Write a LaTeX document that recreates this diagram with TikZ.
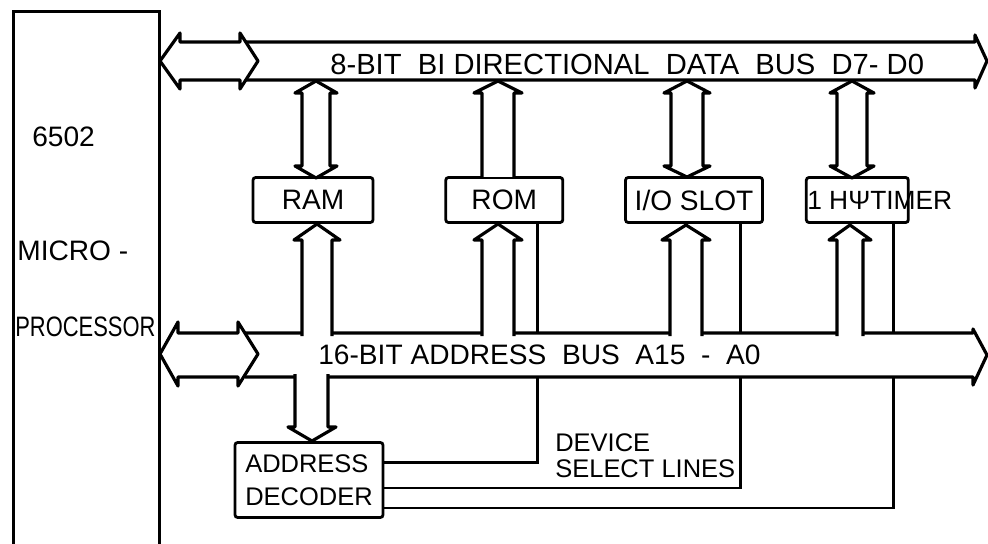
\documentclass[tikz,border=0pt]{standalone}
\usepackage{fontspec}
\usepackage{graphicx}
\setmainfont{Liberation Sans}
\usetikzlibrary{positioning}

\begin{document}
\begin{tikzpicture}[x=0.02cm,y=-0.02cm,
  node distance=14mm,
  box/.style={draw,line width=1.6pt,rounded corners=1.5pt,fill=white,minimum height=9mm,inner sep=0pt,font=\fontsize{16}{18}\selectfont},
  lbl/.style={inner sep=0pt,font=\fontsize{16}{18}\selectfont},
  fat/.style={draw,line width=1.8pt,fill=white,line join=round},
  wire/.style={draw,line width=1.6pt}]
\useasboundingbox (0,0) rectangle (988,544);
\clip (0,0) rectangle (988,544);
% processor
\node[box,sharp corners,anchor=north west,minimum width=29.2mm,minimum height=112mm] (cpu) at (12,10) {};
\node[lbl,anchor=base west] (cpua) at (32,147) {6502};
\node[lbl,anchor=base west] (cpub) at (17,260) {MICRO -};
\node[lbl,anchor=base west] (cpuc) at (15,337) {\scalebox{0.78}[1]{PROCESSOR}};
% devices
\node[box,minimum width=24mm] (ram) at (313,200) {RAM};
\node[box,minimum width=23.4mm,right=14mm of ram] (rom) {ROM};
\node[box,minimum width=27.4mm,right=12mm of rom] (io) {I/O SLOT};
\node[box,minimum width=20.4mm,right=8.2mm of io] (tmr) {};
\node[lbl,anchor=west,font=\fontsize{15}{16}\selectfont] (tmrtxt) at ([xshift=0.4mm]tmr.west) {1 HΨTIMER};
% decoder
\node[box,minimum width=29.6mm,minimum height=15mm,align=left,font=\fontsize{14.5}{18.8}\selectfont] (dec) at (309,480) {ADDRESS\\DECODER};
\node[lbl,anchor=north west,align=left,font=\fontsize{14.5}{14.8}\selectfont] (dsl) at (555,433) {DEVICE\\SELECT LINES};
% select lines, the bus hides them
\draw[wire] ([xshift=6.7mm]rom.south) |- ([yshift=3.5mm]dec.east);
\draw[wire] ([xshift=9.3mm]io.south) |- ([yshift=-1.6mm]dec.east);
\draw[wire] ([xshift=7.2mm]tmr.south) |- ([yshift=-5.6mm]dec.east);
% data bus
\draw[fat] (246,42) -- (975,42) -- (975,35) -- (987,61) -- (975,88) -- (975,80) -- (246,80);
\draw[fat] (160,61) -- (180,33) -- (180,42) -- (240,42) -- (240,33) -- (258,61) -- (240,89) -- (240,80) -- (180,80) -- (180,89) -- cycle;
% address bus
\draw[fat] (245,333) -- (973,333) -- (973,329) -- (987,355) -- (973,385) -- (973,377) -- (245,377);
\draw[fat] (160,354) -- (178,322) -- (178,333) -- (238,333) -- (238,322) -- (258,354) -- (238,386) -- (238,377) -- (178,377) -- (178,386) -- cycle;
% data side
\draw[fat] (316,81) -- (337,93) -- (330,93) -- (330,166) -- (337,166) -- (316,178) -- (295,166) -- (302,166) -- (302,93) -- (295,93) -- cycle;
\draw[fat] (482,177) -- (482,93) -- (474,93) -- (498,81) -- (522,93) -- (514,93) -- (514,177);
\draw[fat] (687,81) -- (710,93) -- (703,93) -- (703,166) -- (710,166) -- (687,177) -- (664,166) -- (671,166) -- (671,93) -- (664,93) -- cycle;
\draw[fat] (852,81) -- (874,93) -- (867,93) -- (867,166) -- (874,166) -- (852,178) -- (830,166) -- (837,166) -- (837,93) -- (830,93) -- cycle;
% address side
\draw[fat] (302,336) -- (302,240) -- (294,240) -- (317,224) -- (340,240) -- (332,240) -- (332,336);
\draw[fat] (482,336) -- (482,240) -- (474,240) -- (498,224) -- (522,240) -- (514,240) -- (514,336);
\draw[fat] (670,336) -- (670,240) -- (662,240) -- (686,225) -- (710,240) -- (702,240) -- (702,336);
\draw[fat] (837,336) -- (837,240) -- (829,240) -- (850,225) -- (871,240) -- (863,240) -- (863,336);
\draw[fat] (295,374) -- (295,427) -- (288,427) -- (312,441) -- (336,427) -- (328,427) -- (328,374);
% bus labels
\node[lbl,anchor=base west,font=\fontsize{16.6}{20}\selectfont] (dbus) at (330,75) {8-BIT\ \ BI DIRECTIONAL\ \ DATA\ \ BUS\ \ D7-\ D0};
\node[lbl,anchor=base west] (abus) at (318,364) {16-BIT ADDRESS\ \ BUS\ \ A15\ \ -\ \ A0};
\end{tikzpicture}
\end{document}
